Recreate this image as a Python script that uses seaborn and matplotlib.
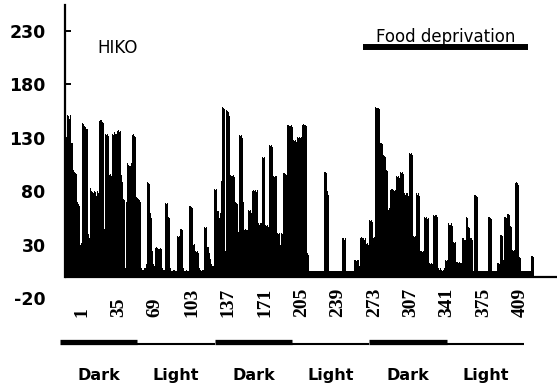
import matplotlib
matplotlib.use("Agg")
import matplotlib.pyplot as plt
import matplotlib.transforms as mtransforms
import numpy as np
import seaborn as sns

# activity counts per 10-min bin, one list per ~12 h stretch
dark_1 = [15, 130, 151, 150, 148, 151, 125, 100, 98, 97, 96, 70, 68, 66, 30, 32,
          144, 143, 141, 140, 138, 40, 36, 83, 80, 79, 78, 80, 79, 76, 80, 78,
          146, 147, 145, 144, 45, 134, 133, 134, 132, 95, 96, 94, 134, 133, 135, 134,
          136, 137, 135, 136, 95, 89, 73, 72, 8, 70, 106, 105, 104, 106, 133, 134,
          132, 131, 75, 74, 73, 72, 70, 8, 7]
light_1 = [7, 8, 12, 89, 88, 87, 60, 55, 24, 12, 10, 27, 28, 27, 26, 27,
           26, 8, 7, 7, 69, 68, 69, 56, 55, 8, 6, 6, 7, 6, 6, 38,
           37, 38, 45, 45, 44, 8, 6, 6, 7, 6, 66, 66, 65, 64, 30, 31,
           24, 23, 24, 22, 8, 7, 6, 7, 47, 46, 47, 28, 28, 22, 17, 12,
           10, 10, 82, 81, 82, 62, 55, 60, 90]
dark_2 = [159, 158, 157, 24, 156, 155, 154, 150, 95, 94, 95, 93, 70, 69, 68, 42,
          133, 132, 133, 130, 70, 44, 45, 44, 63, 62, 63, 60, 80, 81, 80, 81,
          79, 81, 50, 49, 50, 112, 111, 112, 49, 48, 49, 47, 123, 122, 123, 121,
          94, 93, 94, 41, 40, 41, 30, 41, 40, 97, 97, 96, 95, 142, 142, 141,
          142, 140, 128, 127, 128, 126, 131, 130, 131]
light_2 = [130, 131, 142, 143, 142, 141, 22, 21, 6, 6, 6, 6, 6, 6, 6, 6,
           6, 6, 6, 6, 6, 6, 98, 98, 97, 80, 77, 6, 6, 6, 6, 6,
           6, 6, 6, 6, 6, 6, 6, 36, 36, 35, 36, 6, 6, 6, 6, 6,
           6, 6, 16, 16, 15, 16, 16, 10, 36, 37, 36, 35, 36, 31, 32, 30,
           53, 52, 53, 51, 36, 37, 159, 158]
dark_3 = [158, 157, 125, 125, 124, 114, 113, 112, 100, 99, 63, 64, 81, 82, 81, 80,
          81, 94, 93, 94, 92, 98, 97, 98, 96, 78, 77, 78, 76, 116, 115, 116,
          114, 38, 37, 38, 78, 77, 78, 76, 24, 23, 24, 56, 55, 56, 54, 55,
          13, 12, 13, 12, 58, 57, 58, 56, 8, 7, 8, 7, 6, 7, 8, 16,
          15, 16, 50, 49, 50, 48, 33, 32, 33]
light_3 = [14, 14, 13, 14, 13, 13, 36, 36, 35, 56, 55, 47, 46, 36, 36, 35,
           6, 77, 77, 76, 75, 6, 6, 6, 6, 6, 6, 6, 6, 6, 56, 56,
           55, 54, 6, 6, 6, 6, 13, 13, 12, 39, 39, 38, 16, 56, 56, 55,
           59, 58, 48, 47, 25, 24, 25, 88, 89, 88, 86, 19, 18, 6, 6, 6,
           6, 6, 6, 6, 6, 6, 20, 20, 19]

tick_labels = [1, 35, 69, 103, 137, 171, 205, 239, 273, 307, 341, 375, 409]
y_ticks = [-20, 30, 80, 130, 180, 230]
periods = ["Dark", "Light", "Dark", "Light", "Dark", "Light"]
period_edges = [-5, 67, 139, 211, 283, 355, 427]
food_span = [277, 431]

counts = dark_1 + light_1 + dark_2 + light_2 + dark_3 + light_3
bins = np.arange(len(counts))
label_shift = 15.4  # labels sit ~15 bins right of their bar in the scan

sns.set_style("white")
plt.rcParams["font.family"] = ["DejaVu Sans"]
plt.rcParams["axes.unicode_minus"] = False
plt.rcParams["text.color"] = "black"
plt.rcParams["xtick.color"] = "black"
plt.rcParams["ytick.color"] = "black"

fig = plt.figure(figsize=(5.59, 3.92), dpi=100)
ax = fig.add_axes([0.1163, 0.1923, 0.880, 0.7949])

sns.barplot(x=bins, y=counts, color="black", saturation=1, width=1.0,
            linewidth=0, errorbar=None, native_scale=True, ax=ax)

ax.set_xlim(-0.5, 457.6)
ax.set_ylim(-37, 254)
ax.axhline(0, color="black", lw=1.6, zorder=3)

for side in ["top", "right", "bottom"]:
    ax.spines[side].set_visible(False)
ax.spines["left"].set_bounds(0, 254)
ax.spines["left"].set_linewidth(1.6)
ax.spines["left"].set_color("black")

ax.set_yticks(y_ticks)
ax.set_yticklabels([str(v) for v in y_ticks], fontsize=12.5, fontweight="bold")
ax.tick_params(axis="y", direction="in", length=4, width=1.4, pad=14, left=True)
ax.yaxis.get_major_ticks()[0].tick1line.set_visible(False)

ax.set_xticks([t - 1 + label_shift for t in tick_labels])
ax.set_xticklabels([str(t) for t in tick_labels], rotation=90,
                   family="Liberation Serif", fontweight="bold", fontsize=14)
for lbl in ax.get_xticklabels():
    lbl.set_va("bottom")
ax.tick_params(axis="x", length=0, pad=0)
ax.set_xlabel("")
ax.set_ylabel("")

ax.text(0.065, 0.862, "HIKO", transform=ax.transAxes, fontsize=12,
        ha="left", va="center", color="black")

ax.plot(food_span, [215, 215], color="black", lw=4.3, solid_capstyle="butt",
        clip_on=False)
ax.text(sum(food_span) / 2, 219, "Food deprivation", fontsize=12,
        ha="center", va="baseline", color="black")

trans = mtransforms.blended_transform_factory(ax.transData, fig.transFigure)
for k, name in enumerate(periods):
    x0, x1 = period_edges[k], period_edges[k + 1]
    if name == "Dark":
        ax.plot([x0, x1], [0.1288, 0.1288], color="black", lw=3.8,
                solid_capstyle="butt", transform=trans, clip_on=False)
    else:
        ax.plot([x0, x1], [0.1235, 0.1235], color="black", lw=1.5,
                solid_capstyle="butt", transform=trans, clip_on=False)
    ax.text((x0 + x1) / 2, 0.043, name, transform=trans, fontsize=11.5,
            fontweight="bold", ha="center", va="center", color="black")

fig.savefig("out.png", dpi=100, facecolor="white")
